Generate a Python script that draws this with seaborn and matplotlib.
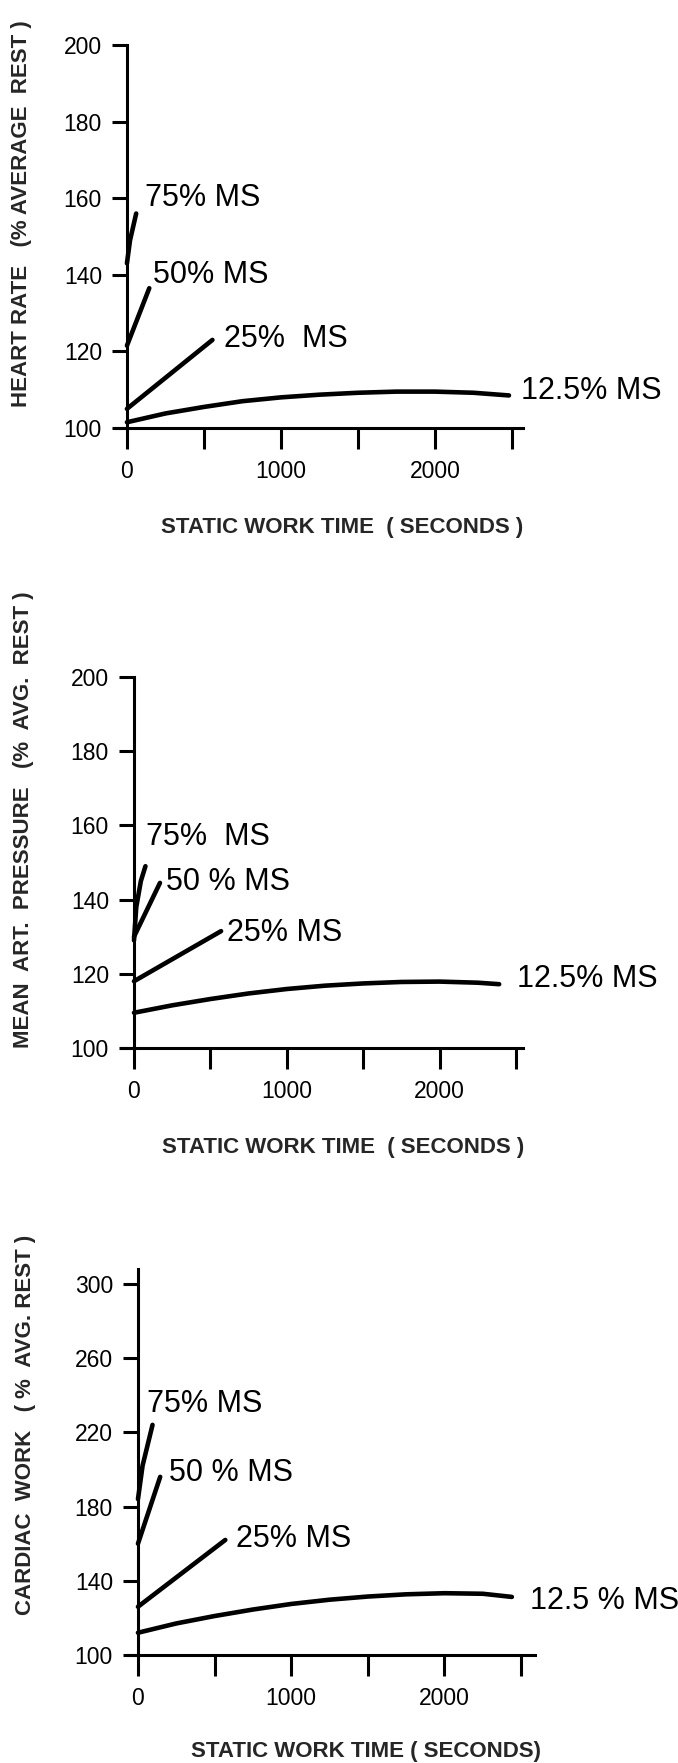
import matplotlib
matplotlib.use("Agg")
import matplotlib.pyplot as plt
import seaborn as sns
import pandas as pd

# heart rate panel
hr_t_75 = [0, 20, 60]
hr_y_75 = [143, 149, 156]
hr_t_50 = [0, 145]
hr_y_50 = [121.5, 136.5]
hr_t_25 = [0, 555]
hr_y_25 = [105, 123]
hr_t_12 = [0, 250, 500, 750, 1000, 1250, 1500, 1750, 2000, 2250, 2480]
hr_y_12 = [101.5, 103.8, 105.5, 107, 108, 108.7, 109.2, 109.5, 109.5, 109.2, 108.5]

# mean arterial pressure panel
map_t_75 = [0, 15, 45, 75]
map_y_75 = [129, 138, 145, 149]
map_t_50 = [0, 170]
map_y_50 = [130, 144.5]
map_t_25 = [0, 570]
map_y_25 = [118, 131.5]
map_t_12 = [0, 250, 500, 750, 1000, 1250, 1500, 1750, 2000, 2250, 2390]
map_y_12 = [109.5, 111.5, 113.2, 114.7, 115.9, 116.8, 117.4, 117.8, 117.9, 117.6, 117.2]

# cardiac work panel
cw_t_75 = [0, 30, 95]
cw_y_75 = [184, 202, 224]
cw_t_50 = [0, 145]
cw_y_50 = [160, 196]
cw_t_25 = [0, 570]
cw_y_25 = [126, 162]
cw_t_12 = [0, 250, 500, 750, 1000, 1250, 1500, 1750, 2000, 2250, 2440]
cw_y_12 = [112, 117, 121, 124.5, 127.5, 129.8, 131.5, 132.7, 133.3, 133, 131.3]

x_ticks = [0, 500, 1000, 1500, 2000, 2500]
x_tick_labels = ["0", "", "1000", "", "2000", ""]
hr_ticks = [100, 120, 140, 160, 180, 200]
map_ticks = [100, 120, 140, 160, 180, 200]
cw_ticks = [100, 140, 180, 220, 260, 300]

x_title = "STATIC WORK TIME  ( SECONDS )"
hr_title = "HEART RATE   (% AVERAGE  REST )"
map_title = "MEAN  ART.  PRESSURE   (%  AVG.  REST )"
cw_title = "CARDIAC  WORK   ( %  AVG. REST )"

sns.set_theme(style="white")
plt.rcParams["font.family"] = ["Liberation Sans", "DejaVu Sans"]

W, H = 678, 1763
fig = plt.figure(figsize=(W / 100, H / 100), dpi=100)


def make_axes(left, right, top, bottom):
    return fig.add_axes([left / W, 1 - bottom / H, (right - left) / W, (bottom - top) / H])


def draw_panel(ax, series, labels, xlim, ylim, yticks, ytitle, xlab_pos, ylab_pos, xtitle):
    for (t, y), (txt, lx, ly) in zip(series, labels):
        df = pd.DataFrame({"t": t, "v": y})
        sns.lineplot(data=df, x="t", y="v", ax=ax, color="black", linewidth=3.3,
                     sort=False, estimator=None, solid_capstyle="round")
        ax.text(lx, ly, txt, fontsize=22, va="center", ha="left", color="black")

    ax.set_xlim(*xlim)
    ax.set_ylim(*ylim)
    ax.spines["top"].set_visible(False)
    ax.spines["right"].set_visible(False)
    ax.spines["left"].set_position(("data", 0))
    for s in ["left", "bottom"]:
        ax.spines[s].set_linewidth(2.2)
        ax.spines[s].set_color("black")

    ax.set_xticks(x_ticks)
    ax.set_xticklabels(x_tick_labels)
    ax.set_yticks(yticks)
    ax.set_yticklabels([str(v) for v in yticks])
    ax.tick_params(axis="x", direction="out", length=15, width=2.2, pad=8,
                   labelsize=16.5, colors="black", bottom=True)
    ax.tick_params(axis="y", direction="out", length=11, width=2.2, pad=7,
                   labelsize=16.5, colors="black", left=True)

    ax.set_xlabel(xtitle, fontsize=16, fontweight="bold", va="center")
    ax.set_ylabel(ytitle, fontsize=16, fontweight="bold", va="center")
    ax.xaxis.set_label_coords(*xlab_pos)
    ax.yaxis.set_label_coords(*ylab_pos)
    ax.grid(False)


ax1 = make_axes(116, 523, 45, 428)
draw_panel(
    ax1,
    [(hr_t_75, hr_y_75), (hr_t_50, hr_y_50), (hr_t_25, hr_y_25), (hr_t_12, hr_y_12)],
    [("75% MS", 115, 160), ("50% MS", 172, 140), ("25%  MS", 632, 123.3), ("12.5% MS", 2557, 109.6)],
    (-71, 2571), (100, 200), hr_ticks, hr_title,
    ((342 - 116) / 407, (428 - 527) / 383), ((22 - 116) / 407, (428 - 214) / 383), x_title,
)

ax2 = make_axes(121, 523, 677, 1048)
draw_panel(
    ax2,
    [(map_t_75, map_y_75), (map_t_50, map_y_50), (map_t_25, map_y_25), (map_t_12, map_y_12)],
    [("75%  MS", 78, 157), ("50 % MS", 207, 144.7), ("25% MS", 609, 131), ("12.5% MS", 2506, 118.5)],
    (-85, 2546), (100, 200), map_ticks, map_title,
    ((343 - 121) / 402, (1048 - 1148) / 371), ((24 - 121) / 402, (1048 - 820) / 371), x_title,
)

ax3 = make_axes(130, 535, 1269, 1655)
draw_panel(
    ax3,
    [(cw_t_75, cw_y_75), (cw_t_50, cw_y_50), (cw_t_25, cw_y_25), (cw_t_12, cw_y_12)],
    [("75% MS", 57, 235), ("50 % MS", 200, 198), ("25% MS", 643, 162.5), ("12.5 % MS", 2557, 129)],
    (-52, 2591), (100, 308), cw_ticks, cw_title,
    ((366 - 130) / 405, (1655 - 1751) / 386), ((26 - 130) / 405, (1655 - 1425) / 386),
    "STATIC WORK TIME ( SECONDS)",
)

fig.savefig("out.png", dpi=100, facecolor="white")
